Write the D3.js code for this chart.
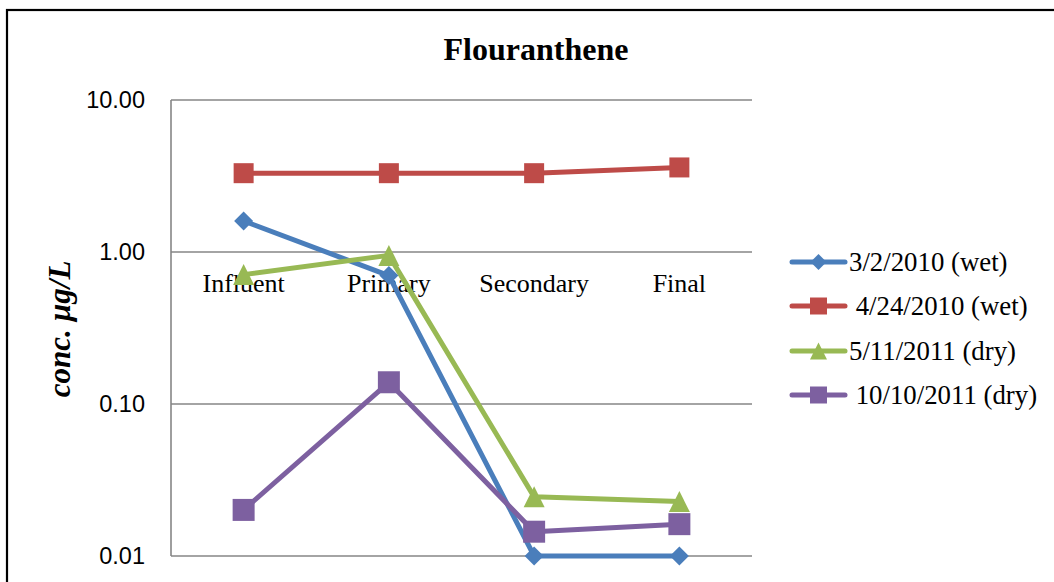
<!DOCTYPE html>
<html>
<head>
<meta charset="utf-8">
<script src="https://cdn.jsdelivr.net/npm/d3@7"></script>
<style>
  html, body { margin: 0; padding: 0; background: #fff; }
  svg { display: block; }
  text { white-space: pre; }
</style>
</head>
<body>
<svg id="chart" width="1054" height="582"></svg>
<script>
// Treatment stages along the x axis
const categories = ["Influent", "Primary", "Secondary", "Final"];

// Flouranthene concentration (µg/L) per sampling event
const seriesNames = ["3/2/2010 (wet)", " 4/24/2010 (wet)", "5/11/2011 (dry)", " 10/10/2011 (dry)"];
const wet20100302 = [1.6, 0.70, 0.01, 0.01];
const wet20100424 = [3.3, 3.3, 3.3, 3.6];
const dry20110511 = [0.71, 0.95, 0.0245, 0.0228];
const dry20111010 = [0.0201, 0.139, 0.01445, 0.0162];

// Log axis tick values and their labels
const yTicks = [0.01, 0.1, 1, 10];
const yTickLabels = ["0.01", "0.10", "1.00", "10.00"];

const seriesValues = [wet20100302, wet20100424, dry20110511, dry20111010];
const seriesColors = ["#4a7ebb", "#be4b48", "#98b954", "#7d60a0"];
const seriesMarkers = ["diamond", "square", "triangle", "square"];
const markerSizes = [19, 20, 21, 22];

const svg = d3.select("#chart");

// Outer chart frame (left and top edges visible)
svg.append("rect")
  .attr("x", 7).attr("y", 10)
  .attr("width", 1200).attr("height", 800)
  .attr("fill", "none").attr("stroke", "#000").attr("stroke-width", 2.2);

const plotLeft = 171, plotRight = 752, plotTop = 100, plotBottom = 556;

const x = d3.scalePoint().domain(categories).range([plotLeft, plotRight]).padding(0.5);
const y = d3.scaleLog().domain([0.01, 10]).range([plotBottom, plotTop]);

// Title
svg.append("text")
  .attr("x", 536).attr("y", 60)
  .attr("text-anchor", "middle")
  .style("font-family", "'Liberation Serif', 'Times New Roman', serif")
  .style("font-weight", "bold")
  .style("font-size", "32px")
  .text("Flouranthene");

// Horizontal gridlines
svg.append("g")
  .selectAll("line")
  .data(yTicks)
  .join("line")
  .attr("x1", plotLeft).attr("x2", plotRight)
  .attr("y1", d => y(d)).attr("y2", d => y(d))
  .attr("stroke", "#868686").attr("stroke-width", 1.6);

// Vertical value axis line
svg.append("line")
  .attr("x1", plotLeft).attr("x2", plotLeft)
  .attr("y1", plotTop).attr("y2", plotBottom)
  .attr("stroke", "#868686").attr("stroke-width", 1.6);

// Y tick labels
svg.append("g")
  .selectAll("text")
  .data(yTicks)
  .join("text")
  .attr("x", 145)
  .attr("y", d => y(d) + 8)
  .attr("text-anchor", "end")
  .style("font-family", "'Liberation Sans', Arial, sans-serif")
  .style("font-size", "23.5px")
  .text((d, i) => yTickLabels[i]);

// Y axis title
svg.append("text")
  .attr("transform", "translate(70,329) rotate(-90)")
  .attr("text-anchor", "middle")
  .style("font-family", "'Liberation Serif', 'Times New Roman', serif")
  .style("font-weight", "bold")
  .style("font-style", "italic")
  .style("font-size", "31px")
  .text("conc. µg/L");

// Category labels sit just below the 1.00 line, where the category axis crosses
svg.append("g")
  .selectAll("text")
  .data(categories)
  .join("text")
  .attr("x", d => x(d))
  .attr("y", y(1) + 40)
  .attr("text-anchor", "middle")
  .style("font-family", "'Liberation Serif', 'Times New Roman', serif")
  .style("font-size", "26px")
  .text(d => d);

// Marker path generator centred on (0,0)
function markerPath(type, s) {
  const h = s / 2;
  if (type === "diamond") return `M0,${-h}L${h},0L0,${h}L${-h},0Z`;
  if (type === "triangle") return `M0,${-h}L${h},${h}L${-h},${h}Z`;
  return `M${-h},${-h}H${h}V${h}H${-h}Z`;
}

const line = d3.line()
  .x((d, i) => x(categories[i]))
  .y(d => y(d));

// Series lines
svg.append("g")
  .selectAll("path")
  .data(seriesValues)
  .join("path")
  .attr("d", d => line(d))
  .attr("fill", "none")
  .attr("stroke", (d, i) => seriesColors[i])
  .attr("stroke-width", 5)
  .attr("stroke-linejoin", "round")
  .attr("stroke-linecap", "round");

// Series markers
seriesValues.forEach((vals, si) => {
  svg.append("g")
    .selectAll("path")
    .data(vals)
    .join("path")
    .attr("transform", (d, i) => `translate(${x(categories[i])},${y(d)})`)
    .attr("d", markerPath(seriesMarkers[si], markerSizes[si]))
    .attr("fill", seriesColors[si]);
});

// Legend
const legend = svg.append("g");
const legendRowY = [262, 306, 351, 395];
seriesNames.forEach((name, i) => {
  const g = legend.append("g").attr("transform", `translate(0,${legendRowY[i]})`);
  g.append("line")
    .attr("x1", 792).attr("x2", 845)
    .attr("y1", 0).attr("y2", 0)
    .attr("stroke", seriesColors[i]).attr("stroke-width", 5)
    .attr("stroke-linecap", "round");
  g.append("path")
    .attr("transform", "translate(818.5,0)")
    .attr("d", markerPath(seriesMarkers[i], seriesMarkers[i] === "diamond" ? 16 : 17))
    .attr("fill", seriesColors[i]);
  g.append("text")
    .attr("x", 849).attr("y", 8.5)
    .attr("xml:space", "preserve")
    .style("font-family", "'Liberation Serif', 'Times New Roman', serif")
    .style("font-size", "26.8px")
    .text(name);
});
</script>
</body>
</html>
